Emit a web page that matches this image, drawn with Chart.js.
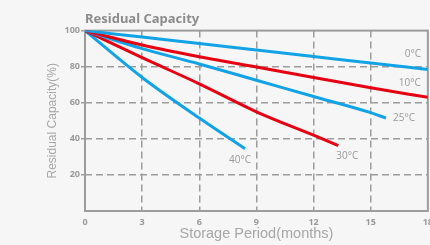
<!DOCTYPE html>
<html>
<head>
<meta charset="utf-8">
<script src="https://cdn.jsdelivr.net/npm/chart.js@4.4.1/dist/chart.umd.min.js"></script>
<style>
  html, body { margin: 0; padding: 0; background: #f6f6f6; overflow: hidden; }
  #wrap { width: 439px; height: 245px; }
</style>
</head>
<body>
<div id="wrap"><canvas id="capacityChart"></canvas></div>
<script>
// Residual capacity (%) vs storage period (months), one curve per temperature
const monthTicks = [0, 3, 6, 9, 12, 15, 18];
const capacityTicks = [20, 40, 60, 80, 100];

const months0C = [0, 3, 6, 9, 12, 15, 18];
const capacity0C = [100, 96.4, 92.8, 89.2, 85.6, 82, 78.5];

const months10C = [0, 3, 6, 9, 12, 15, 18];
const capacity10C = [100, 92, 85.5, 79.8, 74, 68.3, 63];

const months25C = [0, 3, 6, 9, 12, 15, 15.8];
const capacity25C = [100, 90, 81.5, 72.5, 63.5, 54.5, 51.5];

const months30C = [0, 3, 6, 9, 12, 13.3];
const capacity30C = [100, 85, 70.5, 55, 42, 36.3];

const months40C = [0, 3, 6, 8.4];
const capacity40C = [100, 74, 51.5, 34.5];

const BLUE = '#12a3e6';
const RED = '#e60012';
const GRAY = '#9c9c9c';

function toPoints(xs, ys) {
  return xs.map((x, i) => ({ x: x, y: ys[i] }));
}

function series(label, xs, ys, color, labelOffset) {
  return {
    label: label,
    data: toPoints(xs, ys),
    borderColor: color,
    backgroundColor: color,
    borderWidth: 3,
    pointRadius: 0,
    cubicInterpolationMode: 'monotone',
    labelOffset: labelOffset
  };
}

// solid frame round the plot area
const framePlugin = {
  id: 'frame',
  beforeDatasetsDraw(chart) {
    const { ctx, chartArea: a } = chart;
    ctx.save();
    ctx.strokeStyle = GRAY;
    ctx.lineWidth = 2;
    ctx.strokeRect(a.left, a.top, a.right - a.left, a.bottom - a.top);
    ctx.restore();
  }
};

// temperature tag next to the end of each curve
const endLabelPlugin = {
  id: 'endLabels',
  afterDatasetsDraw(chart) {
    const ctx = chart.ctx;
    ctx.save();
    ctx.font = '10px "Open Sans", sans-serif';
    ctx.fillStyle = '#999';
    ctx.textAlign = 'center';
    ctx.textBaseline = 'middle';
    chart.data.datasets.forEach((ds, i) => {
      const pts = chart.getDatasetMeta(i).data;
      const last = pts[pts.length - 1];
      ctx.fillText(ds.label, last.x + ds.labelOffset[0], last.y + ds.labelOffset[1]);
    });
    ctx.restore();
  }
};

new Chart(document.getElementById('capacityChart'), {
  type: 'line',
  data: {
    datasets: [
      series('0°C', months0C, capacity0C, BLUE, [-15, -15]),
      series('10°C', months10C, capacity10C, RED, [-18, -14]),
      series('25°C', months25C, capacity25C, BLUE, [18, 0]),
      series('30°C', months30C, capacity30C, RED, [9, 11]),
      series('40°C', months40C, capacity40C, BLUE, [-5, 11])
    ]
  },
  options: {
    responsive: true,
    maintainAspectRatio: false,
    animation: false,
    layout: { padding: { left: 0, right: 0, top: 0, bottom: 0 } },
    plugins: {
      legend: { display: false },
      tooltip: { enabled: false },
      title: {
        display: true,
        text: 'Residual Capacity',
        align: 'start',
        fullSize: false,
        color: '#8c8c8c',
        font: { family: '"Noto Sans", sans-serif', size: 13, weight: 'bold' },
        padding: { top: 11, bottom: 4 }
      }
    },
    scales: {
      x: {
        type: 'linear',
        min: 0,
        max: 18,
        afterBuildTicks: s => { s.ticks = monthTicks.map(v => ({ value: v })); },
        grid: {
          color: ctx => (ctx.tick && (ctx.tick.value === 0 || ctx.tick.value === 18)) ? 'rgba(0,0,0,0)' : GRAY,
          lineWidth: 1.5,
          drawTicks: false
        },
        border: { display: false, dash: [7, 4] },
        ticks: {
          color: '#999',
          padding: 6,
          font: { family: '"Open Sans", sans-serif', size: 9, weight: 'bold' }
        },
        title: {
          display: true,
          text: 'Storage Period(months)',
          color: '#a6a6a6',
          font: { family: '"Liberation Sans", Arial, sans-serif', size: 14.5 },
          padding: { top: 0, bottom: 2 }
        },
        afterFit: s => { s.height = 34; }
      },
      y: {
        min: 0,
        max: 100,
        afterBuildTicks: s => { s.ticks = capacityTicks.map(v => ({ value: v })); },
        grid: {
          color: ctx => (ctx.tick && ctx.tick.value === 100) ? 'rgba(0,0,0,0)' : GRAY,
          lineWidth: 1.5,
          drawTicks: true,
          tickLength: 4,
          tickColor: GRAY,
          tickWidth: 1.5
        },
        border: { display: false, dash: [7, 4] },
        ticks: {
          color: '#999',
          padding: 1,
          font: { family: '"Open Sans", sans-serif', size: 9, weight: 'bold' }
        },
        title: {
          display: true,
          text: 'Residual Capacity(%)',
          color: '#a6a6a6',
          font: { family: '"Liberation Sans", Arial, sans-serif', size: 12 },
          padding: { top: 45, bottom: 0 }
        },
        afterFit: s => { s.width = 85; }
      }
    }
  },
  plugins: [framePlugin, endLabelPlugin]
});
</script>
</body>
</html>
